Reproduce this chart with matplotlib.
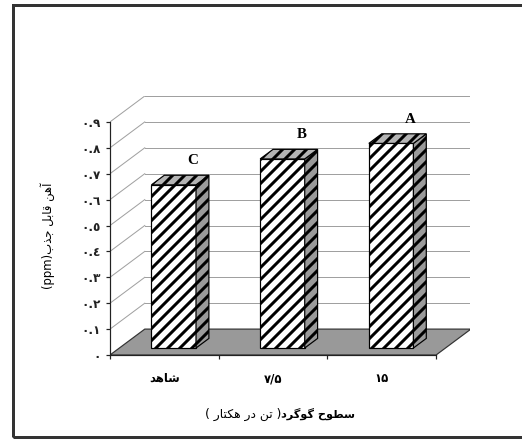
import matplotlib
matplotlib.use('Agg')
import matplotlib.pyplot as plt
from matplotlib.patches import Rectangle, Polygon

plt.rcParams['font.family'] = ['DejaVu Sans']
plt.rcParams['hatch.linewidth'] = 1.5

# data
categories = ['شاهد', '۷/۵', '۱۵']
values = [0.63, 0.73, 0.79]
letters = ['C', 'B', 'A']
yticks = [0, 0.1, 0.2, 0.3, 0.4, 0.5, 0.6, 0.7, 0.8, 0.9]
ylabel_fa = 'آهن قابل جذب'
xlabel_bold = 'سطوح گوگرد'
xlabel_rest = 'تن در هکتار'

# matplotlib has no arabic shaping, so pick presentation forms by hand
FORMS = {
    'آ': ('\uFE81', '\uFE82', None, None),
    'ا': ('\uFE8D', '\uFE8E', None, None),
    'ب': ('\uFE8F', '\uFE90', '\uFE91', '\uFE92'),
    'ت': ('\uFE95', '\uFE96', '\uFE97', '\uFE98'),
    'ج': ('\uFE9D', '\uFE9E', '\uFE9F', '\uFEA0'),
    'ح': ('\uFEA1', '\uFEA2', '\uFEA3', '\uFEA4'),
    'د': ('\uFEA9', '\uFEAA', None, None),
    'ذ': ('\uFEAB', '\uFEAC', None, None),
    'ر': ('\uFEAD', '\uFEAE', None, None),
    'س': ('\uFEB1', '\uFEB2', '\uFEB3', '\uFEB4'),
    'ش': ('\uFEB5', '\uFEB6', '\uFEB7', '\uFEB8'),
    'ط': ('\uFEC1', '\uFEC2', '\uFEC3', '\uFEC4'),
    'ق': ('\uFED5', '\uFED6', '\uFED7', '\uFED8'),
    'ل': ('\uFEDD', '\uFEDE', '\uFEDF', '\uFEE0'),
    'ن': ('\uFEE5', '\uFEE6', '\uFEE7', '\uFEE8'),
    'ه': ('\uFEE9', '\uFEEA', '\uFEEB', '\uFEEC'),
    'و': ('\uFEED', '\uFEEE', None, None),
    'ک': ('\uFB8E', '\uFB8F', '\uFB90', '\uFB91'),
    'گ': ('\uFB92', '\uFB93', '\uFB94', '\uFB95'),
}


def fa(text):
    if not any(ch in FORMS for ch in text):
        return text  # numbers stay left to right
    out = []
    for i, ch in enumerate(text):
        if ch not in FORMS:
            out.append(ch)
            continue
        f = FORMS[ch]
        prev = text[i - 1] if i > 0 else ''
        nxt = text[i + 1] if i + 1 < len(text) else ''
        jp = prev in FORMS and FORMS[prev][2] is not None
        jn = f[2] is not None and nxt in FORMS
        if jp and jn:
            out.append(f[3])
        elif jp:
            out.append(f[1])
        elif jn:
            out.append(f[2])
        else:
            out.append(f[0])
    return ''.join(out)[::-1]


def ar_digits(s):
    return s.translate(str.maketrans('0123456789', '٠١٢٣٤٥٦٧٨٩'))


# 3d look: depth offsets in data units
DX, DY = 0.32, 0.1
F0, F1 = 0.27, 0.64
BW = 0.41

fig = plt.figure(figsize=(522 / 144, 440 / 144), dpi=144)
ax = fig.add_axes([110 / 522, 85 / 440, 360 / 522, 259 / 440])
ax.set_xlim(0, 360 / 108.7)
ax.set_ylim(0, 1.0)

# back wall + side wall gridlines
for v in yticks[1:]:
    ax.plot([DX, 3 + DX], [v + DY, v + DY], color='#a0a0a0', lw=0.5, zorder=1)
    ax.plot([0, DX], [v, v + DY], color='#a0a0a0', lw=0.5, zorder=1)

# floor
ax.add_patch(Polygon([(0, 0), (3, 0), (3 + DX, DY), (DX, DY)], closed=True,
                     facecolor='#999999', edgecolor='#333333', lw=0.6, zorder=2))

ddx = (F1 - F0) * DX
ddy = (F1 - F0) * DY
for i, v in enumerate(values):
    x0 = i + 0.5 - BW / 2 + F0 * DX
    y0 = F0 * DY
    ax.add_patch(Rectangle((x0, y0), BW, v, facecolor='white', edgecolor='black',
                           hatch='////', lw=0.6, zorder=3))
    ax.add_patch(Polygon([(x0 + BW, y0), (x0 + BW + ddx, y0 + ddy),
                          (x0 + BW + ddx, y0 + v + ddy), (x0 + BW, y0 + v)],
                         facecolor='#9a9a9a', edgecolor='black', hatch='////', lw=0.6, zorder=3))
    ax.add_patch(Polygon([(x0, y0 + v), (x0 + ddx, y0 + v + ddy),
                          (x0 + BW + ddx, y0 + v + ddy), (x0 + BW, y0 + v)],
                         facecolor='#b4b4b4', edgecolor='black', hatch='////', lw=0.6, zorder=3))
    ax.text(i + 0.5 + 0.26, v + 0.12, letters[i], ha='center', va='center',
            fontsize=7.5, fontweight='bold', family='Liberation Serif', zorder=4)

for s in ['top', 'right']:
    ax.spines[s].set_visible(False)
ax.spines['left'].set_bounds(0, 0.9)
ax.spines['bottom'].set_bounds(0, 3)
ax.spines['left'].set_color('#222222')
ax.spines['bottom'].set_color('#222222')
ax.spines['left'].set_linewidth(0.6)
ax.spines['bottom'].set_linewidth(0.6)
ax.spines['left'].set_zorder(5)

ax.set_yticks(yticks)
ax.set_yticklabels([ar_digits('0') if t == 0 else ar_digits(f'{t:.1f}') for t in yticks],
                   fontsize=6, fontweight='bold')
ax.tick_params(axis='y', direction='out', length=2, width=0.6, pad=2.5, colors='#222222')

ax.set_xticks([0, 1, 2, 3])
ax.set_xticklabels([])
ax.set_xticks([0.5, 1.5, 2.5], minor=True)
ax.set_xticklabels([fa(c) for c in categories], minor=True, fontsize=5.8, fontweight='bold')
ax.tick_params(axis='x', which='major', direction='out', length=2, width=0.6, colors='#222222')
ax.tick_params(axis='x', which='minor', length=0, pad=8.5)

fig.text(48 / 522, 1 - 236 / 440, '(ppm)' + fa(ylabel_fa), rotation=90,
         ha='center', va='center', fontsize=5.8)
fig.text(281 / 522, 1 - 414 / 440, fa(xlabel_bold), ha='left', va='center',
         fontsize=5.6, fontweight='bold')
fig.text(281 / 522, 1 - 414 / 440, '( ' + fa(xlabel_rest) + ' )', ha='right', va='center',
         fontsize=6.2)

# outer frame, right edge lies outside the picture
fig.patches.append(Rectangle((13 / 522, 3 / 440), 1.0, 432 / 440, transform=fig.transFigure,
                             fill=False, lw=1.5, edgecolor='#333333'))

fig.savefig('out.png', dpi=144)
